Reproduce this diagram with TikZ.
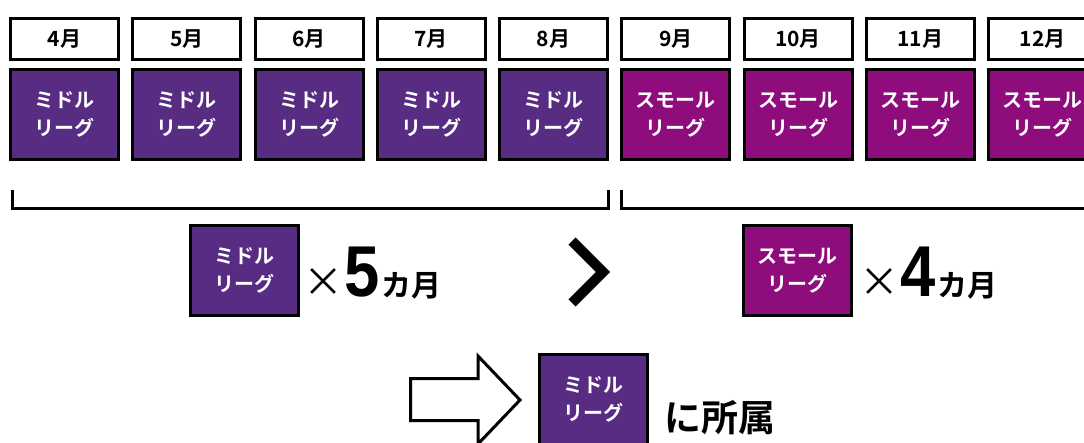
\documentclass[tikz,border=0pt]{standalone}
\usepackage{fontspec}
\usetikzlibrary{positioning}
\newfontfamily\jp{Noto Sans CJK JP}[BoldFont={Noto Sans CJK JP Bold}]
\newfontfamily\arialfont{Liberation Sans}
\definecolor{middlepurple}{RGB}{88,44,131}
\definecolor{smallpurple}{RGB}{142,12,124}
\newcommand{\monthcount}[1]{{\jp\fontsize{40}{40}\selectfont ×}\hspace{1pt}\scalebox{0.88}[1]{\arialfont\bfseries\fontsize{72}{72}\selectfont #1}\hspace{2pt}{\jp\bfseries\fontsize{30}{30}\selectfont カ月}}
\tikzset{
  month/.style={draw=black,line width=3pt,fill=white,minimum width=108pt,minimum height=41pt,inner sep=0pt,font=\jp\bfseries\fontsize{21}{21}\selectfont},
  league/.style={draw=black,line width=3pt,minimum width=108pt,minimum height=90pt,inner sep=0pt,align=center,text=white,font=\jp\bfseries\fontsize{20}{28}\selectfont},
  midleague/.style={league,fill=middlepurple},
  smallleague/.style={league,fill=smallpurple},
  bracket/.style={line width=3pt},
  count/.style={anchor=base west,inner sep=0pt},
}

\begin{document}
\begin{tikzpicture}[x=1pt,y=-1pt]
\useasboundingbox (0,0) rectangle (1084,442);

%months
\node[month] (m4) at (64.5,39) {4月};
\node[month] (m5) at (186.75,39) {5月};
\node[month] (m6) at (309,39) {6月};
\node[month] (m7) at (431.25,39) {7月};
\node[month] (m8) at (553.5,39) {8月};
\node[month] (m9) at (675.75,39) {9月};
\node[month] (m10) at (798,39) {10月};
\node[month] (m11) at (920.25,39) {11月};
\node[month] (m12) at (1042.5,39) {12月};

%leagues
\node[midleague,below=7pt of m4] (l4) {ミドル\\リーグ};
\node[midleague,below=7pt of m5] (l5) {ミドル\\リーグ};
\node[midleague,below=7pt of m6] (l6) {ミドル\\リーグ};
\node[midleague,below=7pt of m7] (l7) {ミドル\\リーグ};
\node[midleague,below=7pt of m8] (l8) {ミドル\\リーグ};
\node[smallleague,below=7pt of m9] (l9) {スモール\\リーグ};
\node[smallleague,below=7pt of m10] (l10) {スモール\\リーグ};
\node[smallleague,below=7pt of m11] (l11) {スモール\\リーグ};
\node[smallleague,below=7pt of m12] (l12) {スモール\\リーグ};

%brackets
\draw[bracket] (12,190) -- (12,208) -- (608,208) -- (608,190);
\draw[bracket] (621,190) -- (621,208) -- (1090,208);

%middle league x 5
\node[midleague] (mid) at (244,270.5) {ミドル\\リーグ};
\node[count] (midcount) at (303,296) {\monthcount{5}};

%greater than
\draw[line width=10pt] (572,241) -- (603,272) -- (572,303);

%small league x 4
\node[smallleague] (small) at (797.5,270.5) {スモール\\リーグ};
\node[count] (smallcount) at (859,296) {\monthcount{4}};

%result
\draw[line width=3pt,fill=white] (410.5,378.5) -- (478,378.5) -- (478,356) -- (520,400) -- (478,444) -- (478,420.5) -- (410.5,420.5) -- cycle;
\node[midleague] (res) at (593,399.5) {ミドル\\リーグ};
\node[count,font=\jp\bfseries\fontsize{37}{37}\selectfont] (belong) at (664,431) {に所属};
\end{tikzpicture}
\end{document}
